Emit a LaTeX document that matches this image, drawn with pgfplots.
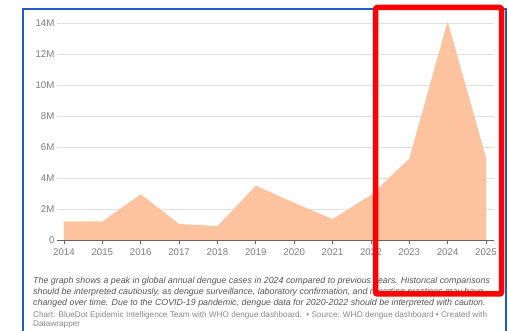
\documentclass[border=0pt]{standalone}
\usepackage{pgfplots}
\pgfplotsset{compat=1.18}
\usepackage{fontspec}
\setmainfont{Liberation Sans}
\definecolor{peach}{RGB}{253,194,158}
\definecolor{gridc}{RGB}{224,224,224}
\definecolor{tickc}{RGB}{125,125,125}
\definecolor{bluebd}{RGB}{30,95,190}
\definecolor{notec}{RGB}{85,85,85}
\definecolor{credc}{RGB}{135,135,135}
\begin{document}
\begin{tikzpicture}[x=1pt,y=1pt]
\useasboundingbox (0,0) rectangle (509,331);
\begin{axis}[
  at={(57pt,91pt)}, anchor=south west,
  scale only axis, width=437pt, height=217pt,
  xmin=2013.818, xmax=2025.208, ymin=0, ymax=14e6,
  clip=false,
  axis line style={draw=none},
  xtick={2014,...,2025},
  xticklabels={2014,2015,2016,2017,2018,2019,2020,2021,2022,2023,2024,2025},
  ytick={0,2e6,4e6,6e6,8e6,10e6,12e6,14e6},
  yticklabels={0,2M,4M,6M,8M,10M,12M,14M},
  scaled y ticks=false,
  ymajorgrids, major grid style={gridc, line width=0.9pt},
  xtick align=outside, xtick pos=bottom, ytick pos=left,
  major tick length=4pt,
  x tick style={tickc!80!black, line width=0.7pt},
  y tick style={draw=none},
  tick label style={font=\fontsize{9.7}{10}\selectfont, text=tickc},
  xticklabel style={yshift=-1pt},
  yticklabel style={xshift=1pt},
]
\addplot[fill=peach, draw=none] coordinates {
(2014,1.2e6) (2015,1.2e6) (2016,2.95e6) (2017,1.03e6) (2018,0.9e6)
(2019,3.5e6) (2020,2.4e6) (2021,1.35e6) (2022,2.9e6) (2023,5.25e6)
(2024,14.1e6) (2025,5.3e6)} \closedcycle;
\draw[tickc!80!black, line width=0.8pt] (axis cs:2013.818,0) -- (axis cs:2025.208,0);
\end{axis}
\node[anchor=base west, font=\fontsize{8.85}{10}\itshape, text=notec, inner sep=0] at (33,47) {The graph shows a peak in global annual dengue cases in 2024 compared to previous years. Historical comparisons};
\node[anchor=base west, font=\fontsize{8.85}{10}\itshape, text=notec, inner sep=0] at (33,36) {should be interpreted cautiously, as dengue surveillance, laboratory confirmation, and reporting practices may have};
\node[anchor=base west, font=\fontsize{8.85}{10}\itshape, text=notec, inner sep=0] at (33,25) {changed over time. Due to the COVID-19 pandemic, dengue data for 2020-2022 should be interpreted with caution.};
\node[anchor=base west, font=\fontsize{8.2}{10}\selectfont, text=credc, inner sep=0] at (33,13.5) {Chart: BlueDot Epidemic Intelligence Team with WHO dengue dashboard.\ \ \textbullet\ Source: WHO dengue dashboard \textbullet\ Created with};
\node[anchor=base west, font=\fontsize{8.2}{10}\selectfont, text=credc, inner sep=0] at (33,4) {Datawrapper};
\draw[bluebd, line width=2pt] (23,0) -- (23,321.5) -- (505.5,321.5) -- (505.5,0);
\draw[red, line width=5.5pt, rounded corners=2pt] (375.5,37) rectangle (501.5,323.5);
\end{tikzpicture}
\end{document}
